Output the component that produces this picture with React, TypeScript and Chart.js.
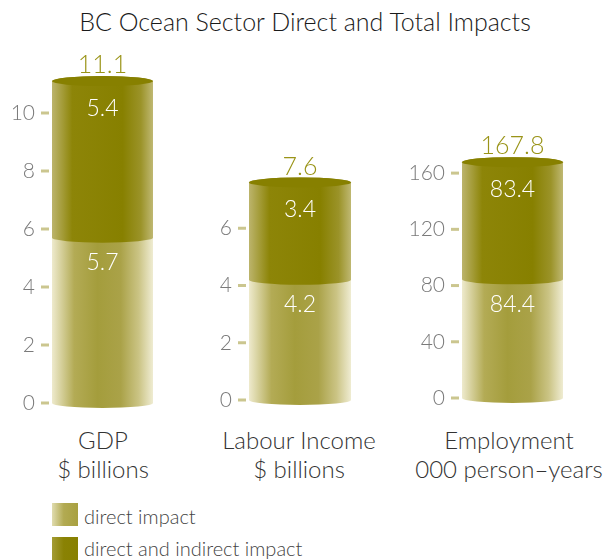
import React, { useEffect, useRef } from 'react';
import { Chart, registerables } from 'chart.js';

Chart.register(...registerables);

// ---- data ----
const panelNames = ['GDP', 'Labour Income', 'Employment'];
const panelUnits = ['$ billions', '$ billions', '000 person–years'];
const directImpact = [5.7, 4.2, 84.4];
const indirectImpact = [5.4, 3.4, 83.4];
const totalImpact = [11.1, 7.6, 167.8];
const yAxisMax = [12, 8, 180];
const yAxisStep = [2, 2, 40];
const yLastTick = [10, 6, 160];
const legendLabels = ['direct impact', 'direct and indirect impact'];

// ---- layout ----
const FONT = 'Lato, "Open Sans", sans-serif';
const CANVAS_TOP = 30;
const CANVAS_H = 390;
const layout = [
  { left: 0, width: 175, axisW: 52, padR: 22, padT: 25, padB: 17 },
  { left: 190, width: 180, axisW: 59, padR: 19, padT: 141, padB: 20 },
  { left: 390, width: 195, axisW: 72, padR: 22, padT: 115, padB: 22 },
];

const cylinderPlugin = {
  id: 'cylinder',
  afterDatasetsDraw(chart: any) {
    const ctx = chart.ctx as CanvasRenderingContext2D;
    const b0 = chart.getDatasetMeta(0).data[0];
    const b1 = chart.getDatasetMeta(1).data[0];
    if (!b0 || !b1) return;
    const x = b0.x;
    const w = b0.width;
    const L = x - w / 2;
    const R = x + w / 2;
    const ry = 5;
    ctx.save();
    // light (direct) segment
    const lg = ctx.createLinearGradient(L, 0, R, 0);
    lg.addColorStop(0, '#eeeacd');
    lg.addColorStop(0.22, '#b3ab55');
    lg.addColorStop(0.45, '#a49d3c');
    lg.addColorStop(0.68, '#aaa248');
    lg.addColorStop(0.86, '#cbc485');
    lg.addColorStop(1, '#efecd2');
    ctx.beginPath();
    ctx.moveTo(L, b0.y);
    ctx.lineTo(L, b0.base);
    ctx.ellipse(x, b0.base, w / 2, ry, 0, Math.PI, 0, true);
    ctx.lineTo(R, b0.y);
    ctx.closePath();
    ctx.fillStyle = lg;
    ctx.fill();
    // dark (direct + indirect) segment
    const dg = ctx.createLinearGradient(L, 0, R, 0);
    dg.addColorStop(0, '#bcb46c');
    dg.addColorStop(0.2, '#8d8508');
    dg.addColorStop(0.7, '#878000');
    dg.addColorStop(0.88, '#9b9329');
    dg.addColorStop(1, '#bfb872');
    ctx.beginPath();
    ctx.moveTo(L, b1.y);
    ctx.lineTo(L, b1.base);
    ctx.ellipse(x, b1.base, w / 2, ry, 0, Math.PI, 0, true);
    ctx.lineTo(R, b1.y);
    ctx.ellipse(x, b1.y, w / 2, ry, 0, 0, Math.PI, true);
    ctx.closePath();
    ctx.fillStyle = dg;
    ctx.fill();
    // top cap
    ctx.beginPath();
    ctx.ellipse(x, b1.y, w / 2, ry, 0, 0, Math.PI * 2);
    ctx.fillStyle = '#878000';
    ctx.fill();
    // labels
    const i = chart.options.plugins.cylinder.index;
    ctx.textAlign = 'center';
    ctx.textBaseline = 'middle';
    ctx.font = `300 23px ${FONT}`;
    ctx.fillStyle = '#ffffff';
    ctx.fillText(String(indirectImpact[i]), x, b1.y + 27);
    ctx.fillText(String(directImpact[i]), x, b0.y + 25);
    ctx.font = `300 25px ${FONT}`;
    ctx.fillStyle = '#9a9418';
    ctx.fillText(String(totalImpact[i]), x, b1.y - 16);
    // tick dashes
    const ys = chart.scales.y;
    ctx.strokeStyle = '#cbc68f';
    ctx.lineWidth = 3;
    ys.ticks.forEach((t: any) => {
      const py = ys.getPixelForValue(t.value);
      ctx.beginPath();
      ctx.moveTo(chart.chartArea.left - 11, py);
      ctx.lineTo(chart.chartArea.left - 3, py);
      ctx.stroke();
    });
    ctx.restore();
  },
};

function Panel({ index }: { index: number }) {
  const ref = useRef<HTMLCanvasElement>(null);
  useEffect(() => {
    const lay = layout[index];
    const chart = new Chart(ref.current!, {
      type: 'bar',
      data: {
        labels: [panelNames[index]],
        datasets: [
          { label: legendLabels[0], data: [directImpact[index]], backgroundColor: 'rgba(0,0,0,0)' },
          { label: legendLabels[1], data: [indirectImpact[index]], backgroundColor: 'rgba(0,0,0,0)' },
        ],
      },
      options: {
        animation: false,
        responsive: false,
        maintainAspectRatio: false,
        events: [],
        layout: { padding: { top: lay.padT, bottom: lay.padB, right: lay.padR, left: 0 } },
        datasets: { bar: { categoryPercentage: 1, barPercentage: 1 } },
        plugins: {
          legend: { display: false },
          title: { display: false },
          tooltip: { enabled: false },
          cylinder: { index },
        } as any,
        scales: {
          x: { stacked: true, display: false },
          y: {
            stacked: true,
            min: 0,
            max: yAxisMax[index],
            grid: { display: false, drawTicks: true, tickLength: 17 },
            border: { display: false },
            ticks: {
              stepSize: yAxisStep[index],
              padding: 0,
              color: '#7a7a7a',
              font: { family: FONT, size: 21, weight: '300' as any },
            },
            afterBuildTicks: (s: any) => {
              s.ticks = s.ticks.filter((t: any) => t.value <= yLastTick[index]);
            },
            afterFit: (s: any) => {
              s.width = lay.axisW;
            },
          },
        },
      },
      plugins: [cylinderPlugin],
    });
    return () => chart.destroy();
  }, [index]);
  const lay = layout[index];
  return (
    <canvas
      ref={ref}
      width={lay.width}
      height={CANVAS_H}
      style={{ position: 'absolute', left: lay.left, top: CANVAS_TOP, width: lay.width, height: CANVAS_H }}
    />
  );
}

const labelCenters = [103, 299, 509];

export default function App() {
  return (
    <div
      style={{
        position: 'fixed',
        left: 0,
        top: 0,
        width: 613,
        height: 560,
        background: '#ffffff',
        fontFamily: FONT,
        overflow: 'hidden',
      }}
    >
      <div
        style={{
          position: 'absolute',
          left: 0,
          width: 610,
          top: 5,
          textAlign: 'center',
          fontSize: 25,
          lineHeight: '32px',
          color: '#1a1a1a',
          fontWeight: 300,
        }}
      >
        BC Ocean Sector Direct and Total Impacts
      </div>
      {[0, 1, 2].map((i) => (
        <Panel key={i} index={i} />
      ))}
      {[0, 1, 2].map((i) => (
        <div
          key={'lab' + i}
          style={{
            position: 'absolute',
            left: labelCenters[i] - 110,
            width: 220,
            top: 425,
            textAlign: 'center',
            fontSize: 24,
            lineHeight: '29px',
            color: '#333',
            fontWeight: 300,
          }}
        >
          {panelNames[i]}
          <br />
          {panelUnits[i]}
        </div>
      ))}
      <div
        style={{
          position: 'absolute',
          left: 52,
          top: 503,
          width: 26,
          height: 23,
          background: 'linear-gradient(to right, #e0dcaf, #b2aa52 45%, #a8a040)',
        }}
      />
      <div
        style={{
          position: 'absolute',
          left: 52,
          top: 537,
          width: 26,
          height: 23,
          background: 'linear-gradient(to right, #a49c34, #8a8204 45%, #878000)',
        }}
      />
      <div style={{ position: 'absolute', left: 84, top: 504, fontSize: 20, lineHeight: '25px', color: '#444', fontWeight: 300 }}>
        {legendLabels[0]}
      </div>
      <div style={{ position: 'absolute', left: 84, top: 536, fontSize: 20, lineHeight: '25px', color: '#444', fontWeight: 300 }}>
        {legendLabels[1]}
      </div>
    </div>
  );
}
